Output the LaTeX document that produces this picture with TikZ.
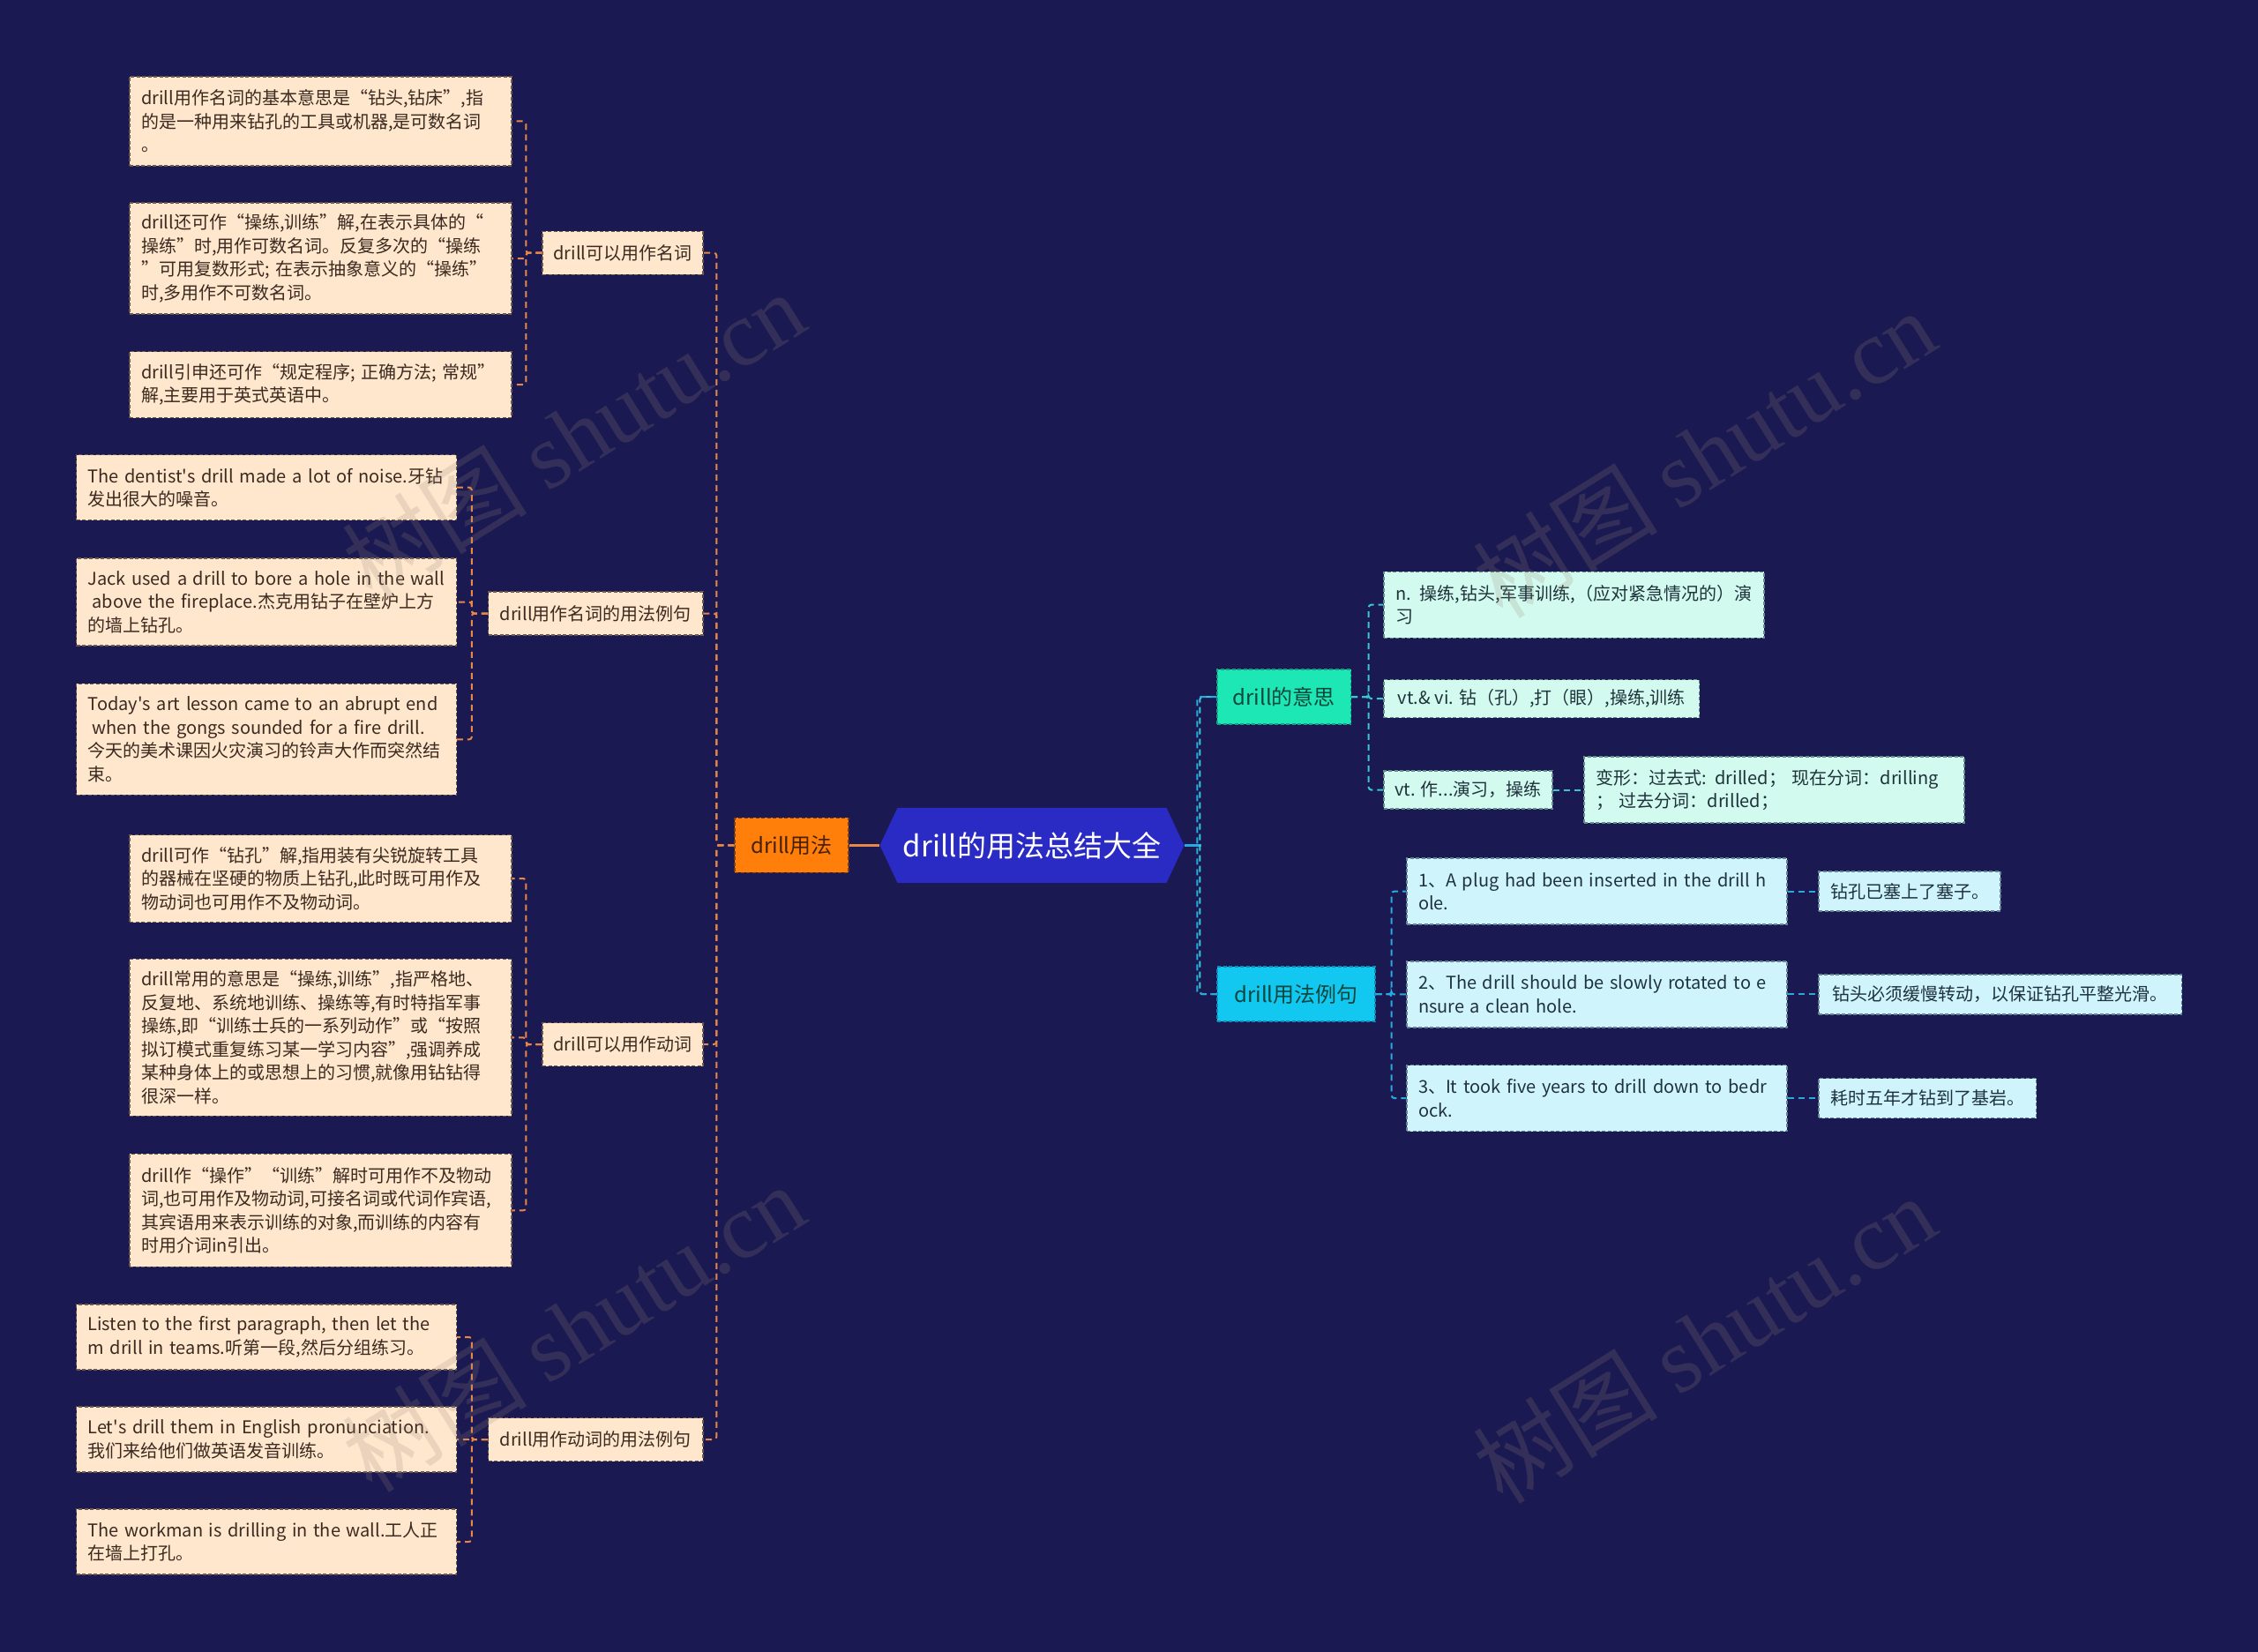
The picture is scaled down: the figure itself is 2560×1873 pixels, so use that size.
\documentclass[tikz,border=0pt]{standalone}
\usepackage{fontspec}
\setmainfont{Noto Sans CJK SC}
\newfontfamily\nomap{Noto Sans CJK SC}
\newfontfamily\wmserif{Liberation Serif}
\newcommand\myfs{\fontsize{20}{26.5}\selectfont}
\newcommand\apos{{\nomap\char39}}
\definecolor{bg}{RGB}{27,25,82}
\definecolor{peach}{RGB}{255,231,206}
\definecolor{peachline}{RGB}{110,90,75}
\definecolor{leaftext}{RGB}{59,42,32}
\definecolor{oline}{RGB}{232,135,70}
\definecolor{ufill}{RGB}{255,127,10}
\definecolor{uline}{RGB}{120,60,20}
\definecolor{utext}{RGB}{70,32,8}
\definecolor{rootfill}{RGB}{42,42,196}
\definecolor{mone}{RGB}{29,232,181}
\definecolor{monel}{RGB}{20,160,130}
\definecolor{mtwo}{RGB}{18,200,240}
\definecolor{mtwol}{RGB}{14,140,180}
\definecolor{mint}{RGB}{210,250,238}
\definecolor{mintline}{RGB}{100,140,140}
\definecolor{ice}{RGB}{208,244,252}
\definecolor{iceline}{RGB}{100,130,150}
\definecolor{rtext}{RGB}{30,50,60}
\definecolor{mtext}{RGB}{12,70,60}
\definecolor{tline}{RGB}{55,200,205}
\definecolor{cline}{RGB}{40,170,225}
\definecolor{wmcol}{RGB}{150,135,120}
\tikzset{
  box/.style={rectangle, line width=1.3pt, dash pattern=on 4pt off 2.5pt, inner xsep=13pt, inner ysep=0pt, font=\myfs},
  peachbox/.style={box, fill=peach, draw=peachline, text=leaftext},
  mintbox/.style={box, fill=mint, draw=mintline, text=rtext},
  icebox/.style={box, fill=ice, draw=iceline, text=rtext},
  multi/.style={align=left, text width=#1},
  oconn/.style={draw=oline, line width=2pt, dash pattern=on 7pt off 5pt, rounded corners=3pt},
  tconn/.style={draw=tline, line width=2pt, dash pattern=on 7pt off 5pt, rounded corners=3pt},
  cconn/.style={draw=cline, line width=2pt, dash pattern=on 7pt off 5pt, rounded corners=3pt},
  wm/.style={text=wmcol, text opacity=0.2, rotate=32, font=\fontsize{105}{110}\selectfont}
}
\begin{document}
\begin{tikzpicture}[x=1pt,y=-1pt]
\fill[bg] (0,0) rectangle (2560,1873);
\useasboundingbox (0,0) rectangle (2560,1873);

% ---------- root ----------
\coordinate (rc) at (1170,958.4);
\fill[rootfill] (rc) ++(-172.5,0) -- ++(20,-42.5) -- ++(305,0) -- ++(20,42.5) -- ++(-20,42.5) -- ++(-305,0) -- cycle;
\node[text=white, font=\fontsize{33}{38}\selectfont, minimum width=345pt, minimum height=85pt, inner sep=0pt] (R) at (rc) {drill的用法总结大全};

% ---------- left main ----------
\node[box, fill=ufill, draw=uline, text=utext, font=\fontsize{24}{28}\selectfont, minimum width=129pt, minimum height=62pt, inner xsep=0pt] (U) at (897.5,958.4) {drill用法};

\node[peachbox, minimum width=182pt, minimum height=49pt, inner xsep=0pt] (P1) at (706,286.7) {drill可以用作名词};
\node[peachbox, minimum width=243.5pt, minimum height=49pt, inner xsep=0pt] (P2) at (675.25,695.5) {drill用作名词的用法例句};
\node[peachbox, minimum width=182pt, minimum height=49pt, inner xsep=0pt] (P3) at (706,1184) {drill可以用作动词};
\node[peachbox, minimum width=243.5pt, minimum height=49pt, inner xsep=0pt] (P4) at (675.25,1632) {drill用作动词的用法例句};

\node[peachbox, multi=407pt, minimum height=101pt] (A1) at (363.5,137.5) {drill用作名词的基本意思是“钻头,钻床”,指\\的是一种用来钻孔的工具或机器,是可数名词\\。};
\node[peachbox, multi=407pt, minimum height=126pt] (A2) at (363.5,293) {drill还可作“操练,训练”解,在表示具体的“\\操练”时,用作可数名词。反复多次的“操练\\”可用复数形式; 在表示抽象意义的“操练”\\时,多用作不可数名词。};
\node[peachbox, multi=407pt, minimum height=75pt] (A3) at (363.5,436) {drill引申还可作“规定程序; 正确方法; 常规”\\解,主要用于英式英语中。};

\node[peachbox, multi=405pt, minimum height=74pt] (B1) at (302,552.7) {\mbox{The dentist\apos s drill made a lot of noise.牙钻}\\发出很大的噪音。};
\node[peachbox, multi=405pt, minimum height=99pt] (B2) at (302,682.5) {\mbox{Jack used a drill to bore a hole in the wall}\\\hspace*{5pt}above the fireplace.杰克用钻子在壁炉上方\\的墙上钻孔。};
\node[peachbox, multi=405pt, minimum height=126pt] (B3) at (302,838.4) {\mbox{Today\apos s art lesson came to an abrupt end}\\\hspace*{5pt}when the gongs sounded for a fire drill.\\今天的美术课因火灾演习的铃声大作而突然结\\束。};

\node[peachbox, multi=407pt, minimum height=99pt] (C1) at (363.5,996) {drill可作“钻孔”解,指用装有尖锐旋转工具\\的器械在坚硬的物质上钻孔,此时既可用作及\\物动词也可用作不及物动词。};
\node[peachbox, multi=407pt, minimum height=178pt] (C2) at (363.5,1176.4) {drill常用的意思是“操练,训练”,指严格地、\\反复地、系统地训练、操练等,有时特指军事\\操练,即“训练士兵的一系列动作”或“按照\\拟订模式重复练习某一学习内容”,强调养成\\某种身体上的或思想上的习惯,就像用钻钻得\\很深一样。};
\node[peachbox, multi=407pt, minimum height=128pt] (C3) at (363.5,1372.3) {drill作“操作”“训练”解时可用作不及物动\\词,也可用作及物动词,可接名词或代词作宾语,\\其宾语用来表示训练的对象,而训练的内容有\\时用介词in引出。};

\node[peachbox, multi=405pt, minimum height=74pt] (D1) at (302,1516) {\mbox{Listen to the first paragraph, then let the}\\m drill in teams.听第一段,然后分组练习。};
\node[peachbox, multi=405pt, minimum height=74pt] (D2) at (302,1632) {\mbox{Let\apos s drill them in English pronunciation.}\\我们来给他们做英语发音训练。};
\node[peachbox, multi=405pt, minimum height=74pt] (D3) at (302,1748) {\mbox{The workman is drilling in the wall.工人正}\\在墙上打孔。};

% ---------- right main ----------
\node[box, fill=mone, draw=monel, text=mtext, font=\fontsize{24}{28}\selectfont, minimum width=151.5pt, minimum height=62pt, inner xsep=0pt] (M1) at (1455.75,790) {drill的意思};
\node[box, fill=mtwo, draw=mtwol, text=mtext, font=\fontsize{24}{28}\selectfont, minimum width=179pt, minimum height=62pt, inner xsep=0pt] (M2) at (1469.5,1127) {drill用法例句};

\node[mintbox, multi=405pt, minimum height=75pt] (E1) at (1784.5,685.7) {n. 操练,钻头,军事训练,（应对紧急情况的）演\\习};
\node[mintbox, minimum width=357.6pt, minimum height=43pt, inner xsep=0pt] (E2) at (1747.8,792) {vt.\& vi. 钻（孔）,打（眼）,操练,训练};
\node[mintbox, minimum width=191pt, minimum height=43pt, inner xsep=0pt] (E3) at (1664.5,895.5) {vt. 作...演习，操练};
\node[mintbox, multi=405pt, minimum height=75pt] (E4) at (2011.5,895.5) {变形：过去式: drilled；  现在分词：drilling\\；  过去分词：drilled；};

\node[icebox, multi=405pt, minimum height=75pt] (F1) at (1810.5,1010.6) {\mbox{1、A plug had been inserted in the drill h}\\ole.};
\node[icebox, multi=405pt, minimum height=75pt] (F2) at (1810.5,1127.4) {\mbox{2、The drill should be slowly rotated to e}\\nsure a clean hole.};
\node[icebox, multi=405pt, minimum height=75pt] (F3) at (1810.5,1245) {\mbox{3、It took five years to drill down to bedr}\\ock.};

\node[icebox, minimum width=206pt, minimum height=45pt, inner xsep=0pt] (G1) at (2165,1010.6) {钻孔已塞上了塞子。};
\node[icebox, minimum width=411.5pt, minimum height=45pt, inner xsep=0pt] (G2) at (2267.75,1127.4) {钻头必须缓慢转动，以保证钻孔平整光滑。};
\node[icebox, minimum width=246.6pt, minimum height=45pt, inner xsep=0pt] (G3) at (2185.3,1245) {耗时五年才钻到了基岩。};

% ---------- connectors left ----------
\draw[draw=oline, line width=2.5pt] (R.west) -- (U.east);
\foreach \p in {P1,P2,P3,P4}{
  \draw[oconn] (U.west) -- ++(-20,0) |- (\p.east);
}
\foreach \c in {A1,A2,A3}{
  \draw[oconn] (P1.west) -- ++(-18,0) |- (\c.east);
}
\foreach \c in {B1,B2,B3}{
  \draw[oconn] (P2.west) -- ++(-18,0) |- (\c.east);
}
\foreach \c in {C1,C2,C3}{
  \draw[oconn] (P3.west) -- ++(-18,0) |- (\c.east);
}
\foreach \c in {D1,D2,D3}{
  \draw[oconn] (P4.west) -- ++(-18,0) |- (\c.east);
}

% ---------- connectors right ----------
\draw[draw=cline, line width=2.5pt] (R.east) -- ++(19,0);
\draw[tconn] (M2.west) -- ++(-19,0) |- (M1.west);
\draw[cconn] (M1.west) -- ++(-22,0) |- (M2.west);
\foreach \c in {E1,E2,E3}{
  \draw[tconn] (M1.east) -- ++(19.5,0) |- (\c.west);
}
\draw[tconn] (E3.east) -- (E4.west);
\foreach \c in {F1,F2,F3}{
  \draw[cconn] (M2.east) -- ++(18,0) |- (\c.west);
}
\draw[cconn] (F1.east) -- (G1.west);
\draw[cconn] (F2.east) -- (G2.west);
\draw[cconn] (F3.east) -- (G3.west);

% ---------- watermarks ----------
\node[wm] (wm1) at (650,493) {树图 {\wmserif shutu.cn}};
\node[wm] (wm2) at (650,1505) {树图 {\wmserif shutu.cn}};
\node[wm] (wm3) at (1932,514) {树图 {\wmserif shutu.cn}};
\node[wm] (wm4) at (1932,1518) {树图 {\wmserif shutu.cn}};
\end{tikzpicture}
\end{document}
